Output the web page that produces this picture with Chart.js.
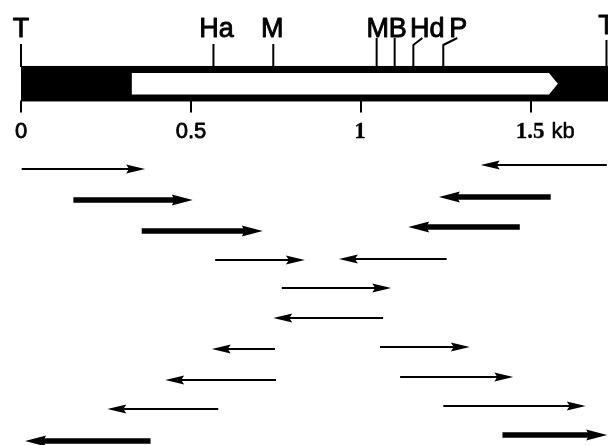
<!DOCTYPE html>
<html><head><meta charset="utf-8">
<script src="https://cdn.jsdelivr.net/npm/chart.js@4/dist/chart.umd.min.js"></script>
<style>html,body{margin:0;padding:0;background:#fff}#wrap{width:608px;height:445px;position:relative}</style>
</head><body><div id="wrap"><canvas id="c"></canvas></div>
<script>
// ---- restriction map (kb) ----
const mapStart = 0, mapEnd = 1.73;
const insertStart = 0.326, insertShoulder = 1.553, insertTip = 1.579;
const termSites = [0, 1.722];
const termLabel = 'T';
const siteNames = ['Ha', 'M', 'M', 'B', 'Hd', 'P'];
const sitePos = [0.566, 0.742, 1.046, 1.099, 1.154, 1.242];
const tickValues = [0, 0.5, 1, 1.5];
const tickLabels = ['0', '0.5', '1', '1.5'];
const unitLabel = 'kb';
// ---- sequenced fragments (kb from -> kb to, lane) ----
const arrowStart = [0.002, 0.154, 0.355, 0.571, 0.767, 1.056, 1.115, 1.242, 1.416,
                    1.723, 1.558, 1.467, 1.252, 1.065, 0.747, 0.750, 0.580, 0.381];
const arrowEnd   = [0.365, 0.505, 0.711, 0.835, 1.089, 1.320, 1.448, 1.661, 1.724,
                    1.352, 1.229, 1.139, 0.935, 0.742, 0.561, 0.424, 0.254, 0.012];
const arrowLane  = [0.13, 1.17, 2.20, 3.17, 4.10, 6.07, 7.07, 8.03, 9.00,
                    0.00, 1.07, 2.07, 3.13, 5.10, 6.13, 7.17, 8.13, 9.20];
const arrowType  = ['thin', 'thick', 'thick', 'thin', 'thin', 'thin', 'thin', 'thin', 'thick',
                    'thin', 'thick', 'thick', 'thin', 'thin', 'thin', 'thin', 'thin', 'thick'];
const mapLane = -2.71;

// ---- styles ----
const STY = {
  thin:  {w: 2,   L: 19, hw: 4.5},
  thick: {w: 5.5, L: 21, hw: 5.5}
};
const siteStyle = [
  {top: 44, lead: 0,  dx: 3},
  {top: 44, lead: 0,  dx: -1},
  {top: 38, lead: 0,  dx: 1},
  {top: 38, lead: 0,  dx: 3},
  {top: 45, lead: 9,  dx: 14},
  {top: 45, lead: 14, dx: 15}
];
const SANS = '"Liberation Sans", Arial, Helvetica, sans-serif';
const SERIF = '"Liberation Serif", "Times New Roman", serif';

const datasets = arrowStart.map((s, i) => ({
  type: 'line',
  data: [{x: s, y: arrowLane[i]}, {x: arrowEnd[i], y: arrowLane[i]}],
  borderColor: '#000',
  borderWidth: STY[arrowType[i]].w,
  borderCapStyle: 'butt',
  pointRadius: 0,
  pointHoverRadius: 0,
  tension: 0,
  clip: false
}));

function headGeom(chart, i) {
  const xs = chart.scales.x, ys = chart.scales.y;
  const xt = xs.getPixelForValue(arrowEnd[i]);
  const y = ys.getPixelForValue(arrowLane[i]);
  const dir = arrowEnd[i] > arrowStart[i] ? 1 : -1;
  const st = STY[arrowType[i]];
  return {xt, y, dir, st};
}

function heavyText(ctx, t, x, y, sw) {
  ctx.lineWidth = sw;
  ctx.strokeText(t, x, y);
  ctx.fillText(t, x, y);
}

const mapPlugin = {
  id: 'mapPlugin',
  beforeDatasetsDraw(chart) {
    const ctx = chart.ctx, xs = chart.scales.x, ys = chart.scales.y;
    const px = v => xs.getPixelForValue(v);
    const cy = ys.getPixelForValue(mapLane);
    const top = cy - 17.75, bot = cy + 17.75;
    ctx.save();
    ctx.fillStyle = '#000';
    ctx.fillRect(px(mapStart), top, px(mapEnd) - px(mapStart), bot - top);
    // insert (white block with arrow tip)
    const it = cy - 10.75, ib = cy + 10.75;
    ctx.fillStyle = '#fff';
    ctx.beginPath();
    ctx.moveTo(px(insertStart), it);
    ctx.lineTo(px(insertShoulder), it);
    ctx.lineTo(px(insertTip), cy);
    ctx.lineTo(px(insertShoulder), ib);
    ctx.lineTo(px(insertStart), ib);
    ctx.closePath();
    ctx.fill();
    // site ticks + labels
    ctx.strokeStyle = '#000'; ctx.fillStyle = '#000';
    ctx.lineJoin = 'round';
    ctx.font = '27px ' + SANS;
    ctx.textAlign = 'center'; ctx.textBaseline = 'alphabetic';
    siteNames.forEach((n, i) => {
      const x = px(sitePos[i]), s = siteStyle[i];
      ctx.lineWidth = 2;
      ctx.beginPath();
      ctx.moveTo(x, top + 1); ctx.lineTo(x, s.top);
      if (s.lead) ctx.lineTo(x + s.lead, s.top - 7);
      ctx.stroke();
      heavyText(ctx, n, x + s.dx, 36.5, 0.9);
    });
    // terminal T markers
    termSites.forEach((v, i) => {
      const x = px(v);
      heavyText(ctx, termLabel, x, i === 0 ? 37 : 34, 0.9);
      ctx.lineWidth = 2;
      ctx.beginPath();
      ctx.moveTo(x, i === 0 ? 44 : 40); ctx.lineTo(x, top + 1);
      ctx.stroke();
    });
    // scale ticks + labels
    tickValues.forEach((v, i) => {
      const x = px(v);
      ctx.lineWidth = 2;
      ctx.beginPath(); ctx.moveTo(x, bot - 1); ctx.lineTo(x, bot + 11); ctx.stroke();
      const serif = v >= 1;
      ctx.font = serif ? 'bold 23px ' + SERIF : '22px ' + SANS;
      ctx.textAlign = 'center';
      const lx = serif ? x - 1 : x;
      heavyText(ctx, tickLabels[i], lx, 138, serif ? 0.3 : 0.8);
      if (i === tickValues.length - 1) {
        const w = ctx.measureText(tickLabels[i]).width;
        ctx.font = '22px ' + SANS;
        ctx.textAlign = 'left';
        heavyText(ctx, unitLabel, lx + w / 2 + 7, 138, 0.5);
      }
    });
    ctx.restore();
  },
  beforeDatasetDraw(chart, args) {
    const i = args.index;
    const {xt, y, dir, st} = headGeom(chart, i);
    const ctx = chart.ctx;
    ctx.save();
    ctx.beginPath();
    ctx.rect(0, 0, chart.width, chart.height);
    const a = xt - dir * (st.L - 5), b = xt + dir * 4;
    ctx.rect(Math.min(a, b), y - 9, Math.abs(b - a), 18);
    ctx.clip('evenodd');
  },
  afterDatasetDraw(chart) {
    chart.ctx.restore();
  },
  afterDatasetsDraw(chart) {
    const ctx = chart.ctx;
    ctx.save();
    ctx.fillStyle = '#000';
    arrowStart.forEach((s, i) => {
      const {xt, y, dir, st} = headGeom(chart, i);
      ctx.beginPath();
      ctx.moveTo(xt, y);
      ctx.lineTo(xt - dir * st.L, y - st.hw);
      ctx.lineTo(xt - dir * (st.L - 3), y);
      ctx.lineTo(xt - dir * st.L, y + st.hw);
      ctx.closePath();
      ctx.fill();
    });
    ctx.restore();
  }
};

new Chart(document.getElementById('c'), {
  type: 'line',
  data: {datasets},
  options: {
    responsive: true,
    maintainAspectRatio: false,
    animation: false,
    events: [],
    layout: {padding: 0},
    plugins: {legend: {display: false}, tooltip: {enabled: false}, title: {display: false}},
    scales: {
      x: {type: 'linear', min: -21 / 340, max: 587 / 340, display: false},
      y: {type: 'linear', min: -5.5, max: 280 / 30, reverse: true, display: false}
    }
  },
  plugins: [mapPlugin]
});
</script>
</body></html>
